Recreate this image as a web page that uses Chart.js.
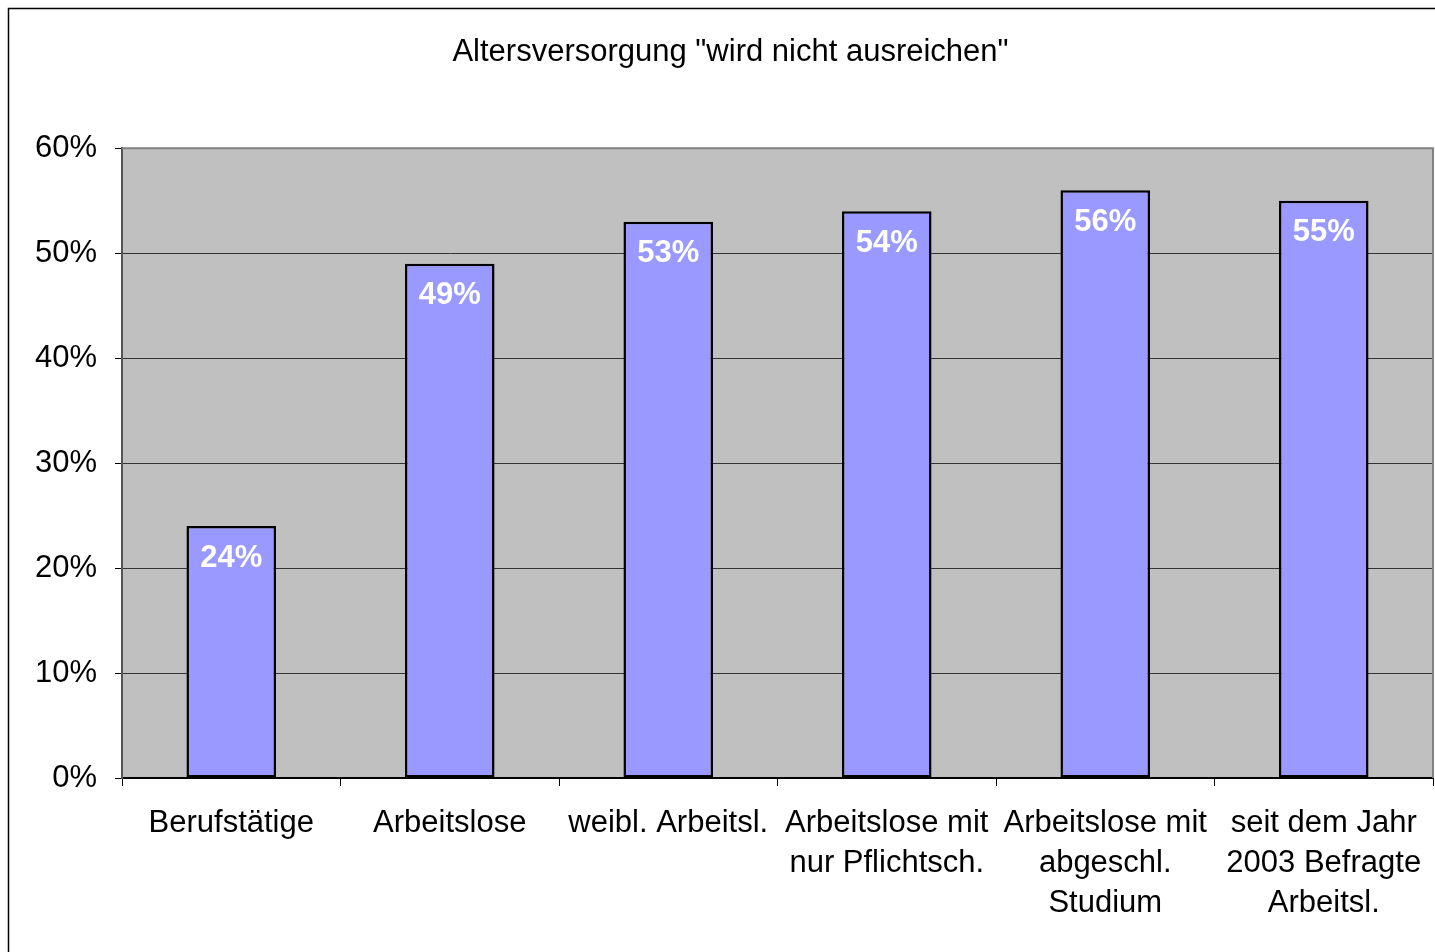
<!DOCTYPE html>
<html>
<head>
<meta charset="utf-8">
<script src="https://cdn.jsdelivr.net/npm/chart.js@4/dist/chart.umd.min.js"></script>
<style>
  html, body { margin: 0; padding: 0; background: #fff; overflow: hidden; }
  #wrap { width: 1435px; height: 952px; }
</style>
</head>
<body>
<div id="wrap"><canvas id="myChart" width="1435" height="952"></canvas></div>
<script>
// data
const chartTitle = 'Altersversorgung "wird nicht ausreichen"';
const categories = [
    ['Berufstätige'],
    ['Arbeitslose'],
    ['weibl. Arbeitsl.'],
    ['Arbeitslose mit', 'nur Pflichtsch.'],
    ['Arbeitslose mit', 'abgeschl.', 'Studium'],
    ['seit dem Jahr', '2003 Befragte', 'Arbeitsl.']
];
const values = [24, 49, 53, 54, 56, 55];
const yMin = 0, yMax = 60, yStep = 10;

const FONT = "'Liberation Sans', Arial, sans-serif";

// outer frame + gray plot background
const backdrop = {
    id: 'backdrop',
    beforeDraw(chart) {
        const ctx = chart.ctx, a = chart.chartArea;
        ctx.save();
        ctx.fillStyle = '#fff';
        ctx.fillRect(0, 0, chart.width, chart.height);
        ctx.strokeStyle = '#000';
        ctx.lineWidth = 1.5;
        ctx.strokeRect(8.5, 8.5, 2000, 2000);
        ctx.fillStyle = '#c0c0c0';
        ctx.fillRect(a.left, a.top, a.right - a.left, a.bottom - a.top);
        ctx.restore();
    },
    beforeDatasetsDraw(chart) {
        const ctx = chart.ctx, a = chart.chartArea;
        ctx.save();
        ctx.strokeStyle = '#808080';
        ctx.lineWidth = 2;
        ctx.beginPath();
        ctx.moveTo(a.left, a.top);
        ctx.lineTo(a.right, a.top);
        ctx.lineTo(a.right, a.bottom);
        ctx.stroke();
        ctx.restore();
    }
};

// white value labels inside the bar tops
const barLabels = {
    id: 'barLabels',
    afterDatasetsDraw(chart) {
        const ctx = chart.ctx;
        const meta = chart.getDatasetMeta(0);
        ctx.save();
        ctx.fillStyle = '#fff';
        ctx.font = 'bold 31px ' + FONT;
        ctx.textAlign = 'center';
        ctx.textBaseline = 'middle';
        meta.data.forEach((bar, i) => {
            ctx.fillText(values[i] + '%', bar.x, bar.y + 32);
        });
        ctx.restore();
    }
};

Chart.defaults.font.family = FONT;
Chart.defaults.color = '#000';

new Chart(document.getElementById('myChart'), {
    type: 'bar',
    data: {
        labels: categories,
        datasets: [{
            data: values,
            backgroundColor: '#9999ff',
            borderColor: '#000',
            borderWidth: 2.5,
            borderSkipped: false,
            categoryPercentage: 1.0,
            barPercentage: 0.41
        }]
    },
    options: {
        responsive: false,
        animation: false,
        layout: { padding: { left: 28, right: 2, top: 8, bottom: 0 } },
        plugins: {
            legend: { display: false },
            tooltip: { enabled: false },
            title: {
                display: true,
                text: chartTitle,
                color: '#000',
                font: { size: 31, weight: 'normal', family: FONT },
                padding: { top: 26, bottom: 77 }
            }
        },
        scales: {
            x: {
                offset: true,
                grid: {
                    offset: true,
                    drawOnChartArea: false,
                    drawTicks: true,
                    tickLength: 8,
                    color: '#000'
                },
                border: { color: '#000', width: 2 },
                ticks: {
                    color: '#000',
                    font: { size: 31, lineHeight: 1.29 },
                    padding: 17,
                    maxRotation: 0,
                    autoSkip: false
                },
                afterFit(scale) {
                    scale.height = 952 - 778;
                    scale.paddingLeft = 0;
                    scale.paddingRight = 0;
                }
            },
            y: {
                min: yMin,
                max: yMax,
                grid: {
                    color: '#333',
                    lineWidth: 1,
                    tickLength: 7,
                    tickColor: '#000'
                },
                border: { color: '#555', width: 2 },
                ticks: {
                    stepSize: yStep,
                    color: '#000',
                    font: { size: 31 },
                    padding: 18,
                    callback: v => v + '%'
                },
                afterFit(scale) { scale.width = 122 - 28; }
            }
        }
    },
    plugins: [backdrop, barLabels]
});
</script>
</body>
</html>
